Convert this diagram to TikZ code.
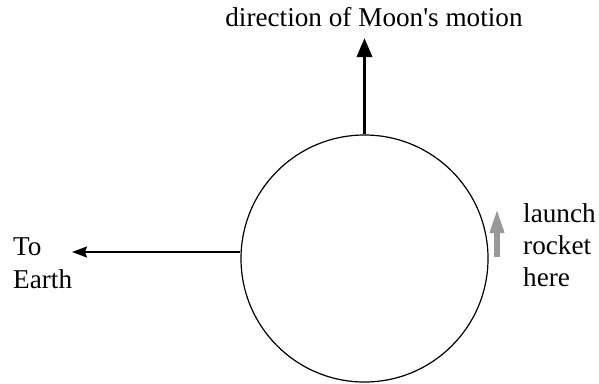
\documentclass[tikz,border=0pt]{standalone}
\usepackage{fontspec}
\setmainfont{Liberation Serif}
\usetikzlibrary{arrows.meta}
\begin{document}
\begin{tikzpicture}[x=1bp,y=-1bp,font=\fontsize{27.3}{33}\selectfont,line join=round,>=Stealth]
\useasboundingbox (0,0) rectangle (599,383);
\node[circle,draw,line width=1.2bp,minimum size=247bp,inner sep=0pt] (M) at (364.5,258.5) {};
\foreach \x/\y/\t in {364.5/38/U,72/252/E,497/257/R0,497/208/R1}
\coordinate (\t) at (\x,\y);
\draw[line width=3.5bp,-{Triangle[length=19bp,width=15bp]}] (M.north)--(U);
\draw[line width=1.5bp,-{Stealth[length=15bp,width=11bp,inset=2bp]}] (M.west|-E)--(E);
\draw[gray!80,line width=6bp,-{Triangle[length=25bp,width=13bp]}] (R0)--(R1);
\node[anchor=base,inner sep=0pt] (dir) at (374,26) {direction of Moon\textquotesingle s motion};
\node[anchor=base west,align=left,inner sep=0pt] (earth) at (13,288) {To\\Earth};
\node[anchor=base west,align=left,inner sep=0pt,font=\fontsize{27.3}{32}\selectfont] (launch) at (523,286) {launch\\rocket\\here};
\end{tikzpicture}
\end{document}
